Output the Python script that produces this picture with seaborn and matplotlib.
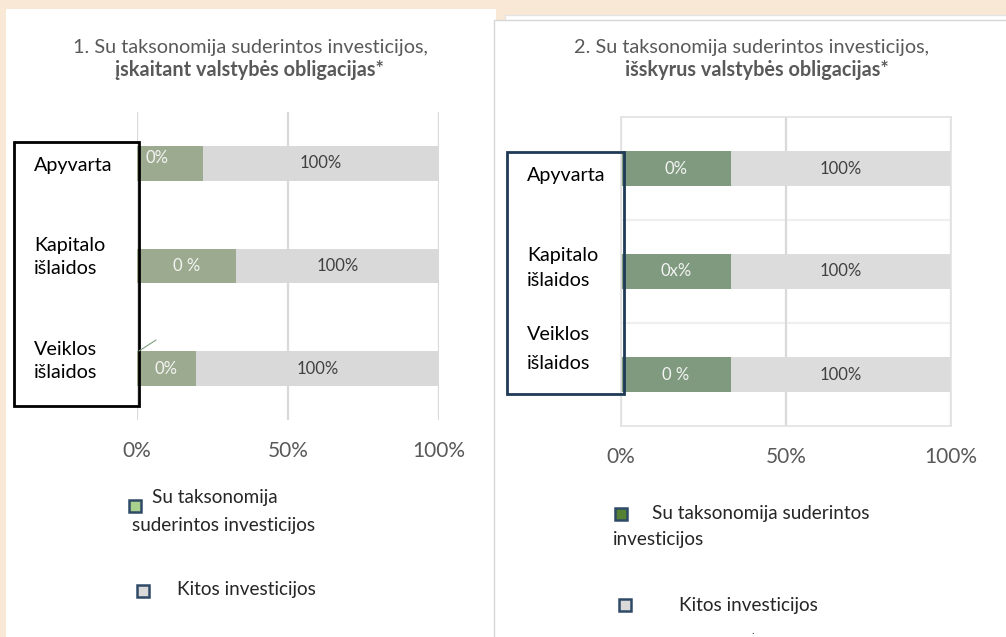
import matplotlib
matplotlib.use("Agg")
import matplotlib.pyplot as plt
from matplotlib.patches import Rectangle
from matplotlib.lines import Line2D
import pandas as pd
import seaborn as sns

# ---- data ----
categories = ["Apyvarta", "Kapitalo išlaidos", "Veiklos išlaidos"]
totals = [1.0, 1.0, 1.0]
aligned_incl = [0.218, 0.328, 0.195]     # panel 1 green segment
aligned_excl = [0.333, 0.333, 0.333]     # panel 2 green segment
green_labels_incl = ["0%", "0 %", "0%"]
green_labels_excl = ["0%", "0x%", "0 %"]
grey_labels = ["100%", "100%", "100%"]
tick_vals = [0, 0.5, 1.0]
tick_labels = ["0%", "50%", "100%"]
legend_names = ["Su taksonomija suderintos investicijos", "Kitos investicijos"]

sns.set_style("white")
plt.rcParams["font.family"] = ["Lato", "DejaVu Sans"]

W, H = 1006, 637
fig = plt.figure(figsize=(W / 100, H / 100), dpi=100)
fig.patch.set_facecolor("#FAE8D6")


def fx(x):
    return x / W


def fy(y):
    return 1 - y / H


def rect(x0, y0, x1, y1, **kw):
    r = Rectangle((fx(x0), fy(y1)), fx(x1) - fx(x0), fy(y0) - fy(y1),
                  transform=fig.transFigure, **kw)
    fig.add_artist(r)
    return r


# white panels behind the charts
rect(6, 9, 496, 640, facecolor="white", edgecolor="none", zorder=-3)
rect(505, 15, 1010, 640, facecolor="white", edgecolor="#e4e4e4", lw=1, zorder=-2)
rect(494, 20, 1010, 640, facecolor="white", edgecolor="#d6d6d6", lw=1, zorder=-1)

TXT = "#595959"
TITLE_FS = 14.3
CAT_FS = 14.2
BAR_FS = 12
LEG_FS = 13.6


def draw_panel(box, aligned, green_labels, green, grey, framed):
    ax = fig.add_axes([fx(box[0]), fy(box[3]), fx(box[2]) - fx(box[0]), fy(box[1]) - fy(box[3])])
    ax.set_facecolor("none")
    df = pd.DataFrame({"cat": categories, "total": totals, "aligned": aligned})
    sns.barplot(data=df, y="cat", x="total", color=grey, width=0.34, saturation=1,
                linewidth=0, orient="h", ax=ax)
    sns.barplot(data=df, y="cat", x="aligned", color=green, width=0.34, saturation=1,
                linewidth=0, orient="h", ax=ax)
    ax.set_xlim(0, 1)
    ax.set_ylim(2.5, -0.5)
    ax.set_xticks(tick_vals)
    ax.set_xticklabels(tick_labels)
    ax.set_yticks([])
    ax.set_xlabel("")
    ax.set_ylabel("")
    ax.tick_params(axis="x", length=0, pad=15, labelsize=15, labelcolor=TXT)
    ax.grid(axis="x", color="#d9d9d9", lw=1.6)
    ax.set_axisbelow(True)
    for s in ax.spines.values():
        s.set_visible(framed)
        s.set_color("#e2e2e2")
        s.set_linewidth(1.2)
    if framed:
        for yb in [0.5, 1.5]:
            ax.axhline(yb, color="#efefef", lw=1.6, zorder=0)
    for i, (a, t) in enumerate(zip(aligned, totals)):
        if not framed and i == 0:
            ax.text(0.027, i - 0.05, green_labels[i], ha="left", va="center",
                    fontsize=BAR_FS, color="#f4f4f4")
        else:
            ax.text(a / 2, i, green_labels[i], ha="center", va="center",
                    fontsize=BAR_FS, color="#f4f4f4")
        ax.text((a + t) / 2, i, grey_labels[i], ha="center", va="center",
                fontsize=BAR_FS, color="#404040")
    return ax


# ---- panel 1 ----
fig.text(fx(250), fy(47), "1. Su taksonomija suderintos investicijos,", ha="center",
         va="center", fontsize=TITLE_FS, color=TXT)
fig.text(fx(249), fy(70), "įskaitant valstybės obligacijas*", ha="center",
         va="center", fontsize=TITLE_FS, color=TXT, fontweight="bold")
draw_panel((137, 112, 439, 420), aligned_incl, green_labels_incl,
           "#9CAB8F", "#D9D9D9", framed=False)
rect(14, 142, 139, 406, facecolor="none", edgecolor="black", lw=2, zorder=5)
for name, yc, ls in zip(categories, [166, 257, 361], [1.45, 1.45, 1.45]):
    fig.text(fx(34), fy(yc), name.replace(" ", "\n"), ha="left", va="center",
             fontsize=CAT_FS, color="black", linespacing=ls, zorder=6)
fig.add_artist(Line2D([fx(139), fx(156)], [fy(351), fy(340)], color="#7f9b7f",
                      lw=0.8, transform=fig.transFigure, zorder=6))

# legend panel 1
fig.add_artist(Line2D([fx(135)], [fy(506)], marker="s", markersize=9, mfc="#A9D18E",
                      mec="#2F4A66", mew=1.8, transform=fig.transFigure))
fig.text(fx(152), fy(498), "Su taksonomija", ha="left", va="center", fontsize=LEG_FS)
fig.text(fx(132), fy(525), "suderintos investicijos", ha="left", va="center", fontsize=LEG_FS)
fig.add_artist(Line2D([fx(143)], [fy(591)], marker="s", markersize=9, mfc="#D9D9D9",
                      mec="#2F4A66", mew=1.8, transform=fig.transFigure))
fig.text(fx(177), fy(590), legend_names[1], ha="left", va="center", fontsize=LEG_FS)

# ---- panel 2 ----
fig.text(fx(752), fy(47), "2. Su taksonomija suderintos investicijos,", ha="center",
         va="center", fontsize=TITLE_FS, color=TXT)
fig.text(fx(757), fy(70), "išskyrus valstybės obligacijas*", ha="center",
         va="center", fontsize=TITLE_FS, color=TXT, fontweight="bold")
draw_panel((621, 117, 951, 426), aligned_excl, green_labels_excl,
           "#7F9A7E", "#DCDCDC", framed=True)
rect(507, 152, 624, 394, facecolor="none", edgecolor="#1F3A56", lw=2, zorder=5)
for name, yc, ls in zip(categories, [176, 268, 349], [1.45, 1.5, 1.85]):
    fig.text(fx(527), fy(yc), name.replace(" ", "\n"), ha="left", va="center",
             fontsize=CAT_FS, color="black", linespacing=ls, zorder=6)

# legend panel 2
fig.add_artist(Line2D([fx(621)], [fy(514)], marker="s", markersize=9, mfc="#548235",
                      mec="#2F4A66", mew=1.8, transform=fig.transFigure))
fig.text(fx(652), fy(513), "Su taksonomija suderintos", ha="left", va="center", fontsize=LEG_FS)
fig.text(fx(613), fy(540), "investicijos", ha="left", va="center", fontsize=LEG_FS)
fig.add_artist(Line2D([fx(625)], [fy(605)], marker="s", markersize=9, mfc="#D9D9D9",
                      mec="#2F4A66", mew=1.8, transform=fig.transFigure))
fig.text(fx(679), fy(605), legend_names[1], ha="left", va="center", fontsize=LEG_FS)
fig.text(fx(753), fy(630), ".", ha="center", va="center", fontsize=8, color="#404040")

fig.savefig("out.png", dpi=100, facecolor=fig.get_facecolor())
